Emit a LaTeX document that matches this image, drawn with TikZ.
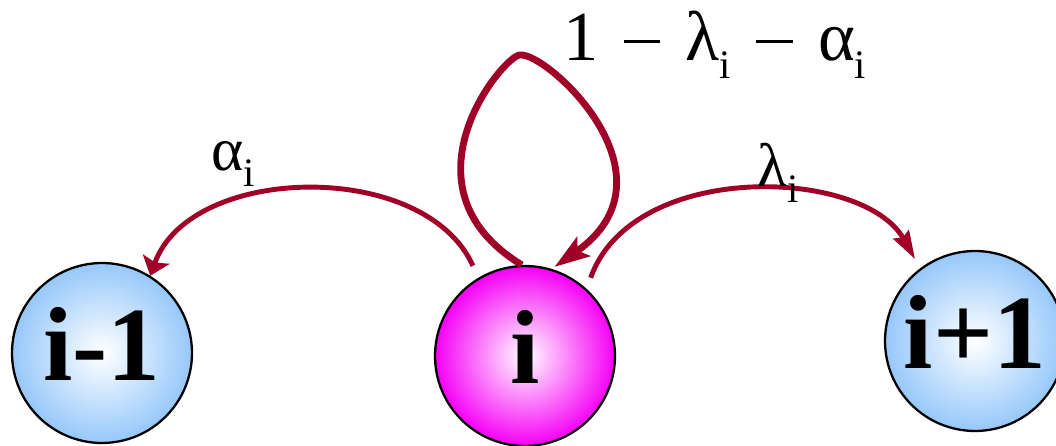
\documentclass[tikz,border=0pt]{standalone}
\usepackage{fontspec}
\setmainfont{Liberation Serif}
\usetikzlibrary{arrows.meta,calc}
\definecolor{arcred}{RGB}{160,0,40}
\definecolor{ballblue}{RGB}{150,200,250}
\definecolor{ballpink}{RGB}{245,0,245}
\newcommand{\subi}[1][9pt]{\raisebox{-#1}{\fontsize{23pt}{23pt}\selectfont i}}
\newcommand{\mns}{\hspace{0.36em}\raisebox{0.25em}{\rule{0.52em}{0.045em}}\hspace{0.36em}}

\begin{document}
\begin{tikzpicture}[
    x=0.02cm, y=-0.02cm,
    state/.style={circle, draw=black, line width=1.3pt, minimum size=3.6cm, inner sep=0pt,
      inner color=white, font=\fontsize{60pt}{60pt}\selectfont\bfseries, text depth=10pt},
    arr/.style={draw=arcred, line width=2.8pt},
    rate/.style={font=\fontsize{35pt}{35pt}\selectfont, inner sep=0pt, anchor=base west}
  ]
  \useasboundingbox (0,0) rectangle (1056,446);
  % states
  \node[state, outer color=ballblue] (im1) at (102,353) {i-1};
  \node[state, outer color=ballpink] (i) at (525,356) {i};
  \node[state, outer color=ballblue] (ip1) at (975,341) {i+1};
  % transitions
  \coordinate (looptop) at (520,55);
  \draw[arr, -{Stealth[length=10pt,width=16pt,inset=2pt]}]
    ([shift={(120:0.26cm)}]i.120) .. controls +(-48,-107) and +(40,-112) .. (im1.58);
  \draw[arr, -{Stealth[length=16pt,width=10pt,inset=2pt]}, shorten >=6pt]
    ([shift={(50:0.22cm)}]i.50) .. controls +(42,-118) and +(-57,-101) .. (ip1.127);
  \draw[arr, line width=3.9pt, -{Stealth[length=20pt,width=13pt,inset=4pt]}, shorten >=2pt]
    (i.92) .. controls +(-128,-78) and +(-16,0) .. (looptop)
    .. controls +(27,-3) and +(132,-92) .. (i.73);
  % rates
  \node[rate] (alphal) at (211,171) {α\subi[8.6pt]};
  \node[rate] (lambdal) at (757,187) {λ\subi[8.6pt]};
  \node[rate, font=\fontsize{40pt}{40pt}\selectfont] (loopl) at (563,61) {1\mns λ\subi[9.9pt]\mns α\subi[9.9pt]};
\end{tikzpicture}
\end{document}
